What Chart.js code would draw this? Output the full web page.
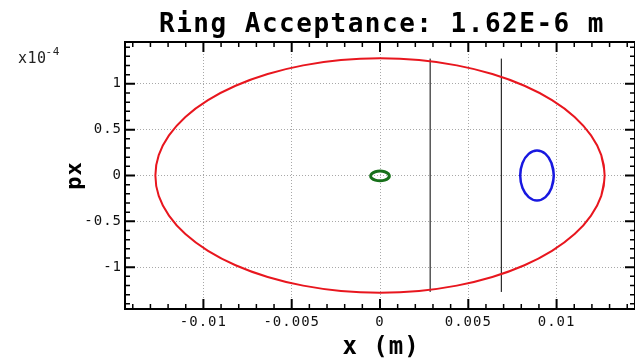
<!DOCTYPE html>
<html>
<head>
<meta charset="utf-8">
<script src="https://cdn.jsdelivr.net/npm/chart.js@4.4.1/dist/chart.umd.min.js"></script>
<style>
  html, body { margin: 0; padding: 0; background: #fff; }
  canvas { display: block; }
</style>
</head>
<body>
<canvas id="acceptance" width="635" height="359"></canvas>
<script>
// px values are in units of 1e-4 (see the x10^-4 marker)

// acceptance ellipse, traced once round (first/last points overlap for a smooth join)
const ringX = [0.01253,
  0.01272, 0.01253, 0.01195, 0.01102, 0.00974, 0.00818, 0.00636, 0.00435, 0.00221, 0,
  -0.00221, -0.00435, -0.00636, -0.00818, -0.00974, -0.01102, -0.01195, -0.01253, -0.01272,
  -0.01253, -0.01195, -0.01102, -0.00974, -0.00818, -0.00636, -0.00435, -0.00221, 0,
  0.00221, 0.00435, 0.00636, 0.00818, 0.00974, 0.01102, 0.01195, 0.01253, 0.01272,
  0.01253];
const ringPx = [-0.222,
  0, 0.222, 0.437, 0.639, 0.822, 0.979, 1.107, 1.201, 1.259, 1.278,
  1.259, 1.201, 1.107, 0.979, 0.822, 0.639, 0.437, 0.222, 0,
  -0.222, -0.437, -0.639, -0.822, -0.979, -1.107, -1.201, -1.259, -1.278,
  -1.259, -1.201, -1.107, -0.979, -0.822, -0.639, -0.437, -0.222, 0,
  0.222];

// off-axis beam (blue)
const beamX = [0.00971, 0.00984, 0.00971, 0.00937, 0.00889, 0.00842, 0.00807, 0.00794,
  0.00807, 0.00842, 0.00889, 0.00937, 0.00971, 0.00984, 0.00971];
const beamPx = [-0.137, 0, 0.137, 0.236, 0.273, 0.236, 0.137, 0,
  -0.137, -0.236, -0.273, -0.236, -0.137, 0, 0.137];

// on-axis beam (green)
const coreX = [0.00046, 0.00053, 0.00046, 0.000265, 0, -0.000265, -0.00046, -0.00053,
  -0.00046, -0.000265, 0, 0.000265, 0.00046, 0.00053, 0.00046];
const corePx = [-0.0315, -0.005, 0.0215, 0.041, 0.048, 0.041, 0.0215, -0.005,
  -0.0315, -0.051, -0.058, -0.051, -0.0315, -0.005, 0.0215];

// septum / aperture positions
const apertureX = [0.00284, 0.00687];
const apertureSpan = [-1.27, 1.275];

// labelled ticks
const xMajor = [-0.01, -0.005, 0, 0.005, 0.01];
const xTickLabels = ['-0.01', '-0.005', '0', '0.005', '0.01'];
const yMajor = [-1, -0.5, 0, 0.5, 1];
const yTickLabels = ['-1', '-0.5', '0', '0.5', '1'];

const MONO = '"DejaVu Sans Mono", monospace';

const toPoints = (xs, ys) => xs.map((x, i) => ({ x: x, y: ys[i] }));
const majorIndex = (list, v) => list.findIndex(m => Math.abs(m - v) < 1e-9);

// frame, inward ticks and the text around the plot
const framePlugin = {
  id: 'frame',
  beforeDraw(chart) {
    chart.ctx.letterSpacing = '1px';
  },
  afterDatasetsDraw(chart) {
    const { ctx, chartArea: a, scales: { x, y } } = chart;
    ctx.save();
    ctx.strokeStyle = '#000';
    ctx.lineCap = 'butt';

    x.ticks.forEach(t => {
      const px = x.getPixelForValue(t.value);
      const major = majorIndex(xMajor, t.value) >= 0;
      const len = major ? 10 : 5;
      ctx.lineWidth = major ? 2 : 1.5;
      ctx.beginPath();
      ctx.moveTo(px, a.bottom); ctx.lineTo(px, a.bottom - len);
      ctx.moveTo(px, a.top); ctx.lineTo(px, a.top + len);
      ctx.stroke();
    });
    y.ticks.forEach(t => {
      const py = y.getPixelForValue(t.value);
      const major = majorIndex(yMajor, t.value) >= 0;
      const len = major ? 10 : 5;
      ctx.lineWidth = major ? 2 : 1.5;
      ctx.beginPath();
      ctx.moveTo(a.left, py); ctx.lineTo(a.left + len, py);
      ctx.moveTo(a.right, py); ctx.lineTo(a.right - len, py);
      ctx.stroke();
    });

    ctx.lineWidth = 2;
    ctx.strokeRect(a.left, a.top, a.right - a.left, a.bottom - a.top);
    ctx.restore();
  },
  afterDraw(chart) {
    const { ctx, chartArea: a } = chart;
    const cx = (a.left + a.right) / 2;
    ctx.save();
    ctx.fillStyle = '#000';
    ctx.textBaseline = 'alphabetic';

    ctx.letterSpacing = '1.5px';
    ctx.textAlign = 'center';
    ctx.font = 'bold 26px ' + MONO;
    ctx.fillText('Ring Acceptance: 1.62E-6 m', cx + 2, 32);

    ctx.letterSpacing = '1px';
    ctx.font = 'bold 24px ' + MONO;
    ctx.fillText('x (m)', cx + 1, 354);

    ctx.save();
    ctx.translate(81, (a.top + a.bottom) / 2);
    ctx.rotate(-Math.PI / 2);
    ctx.font = 'bold 22px ' + MONO;
    ctx.fillText('px', 0, 0);
    ctx.restore();

    ctx.textAlign = 'left';
    ctx.fillStyle = '#222';
    ctx.letterSpacing = '0.5px';
    ctx.font = '15px ' + MONO;
    ctx.fillText('x10', 18, 63);
    const w = ctx.measureText('x10').width;
    ctx.font = '11px ' + MONO;
    ctx.fillText('-4', 17 + w, 55);
    ctx.restore();
  }
};

const lineSet = (data, color, width, tension) => ({
  data: data,
  showLine: true,
  fill: false,
  borderColor: color,
  borderWidth: width,
  pointRadius: 0,
  tension: tension
});

new Chart(document.getElementById('acceptance'), {
  type: 'scatter',
  data: {
    datasets: [
      lineSet(toPoints(ringX, ringPx), '#e8161e', 2, 0.4),
      lineSet(toPoints(coreX, corePx), '#17701a', 3, 0.4),
      lineSet(toPoints(beamX, beamPx), '#1818e0', 2.5, 0.4),
      lineSet(toPoints([apertureX[0], apertureX[0]], apertureSpan), '#000', 1, 0),
      lineSet(toPoints([apertureX[1], apertureX[1]], apertureSpan), '#000', 1, 0)
    ]
  },
  options: {
    responsive: false,
    animation: false,
    layout: { padding: { top: 42, right: -1, bottom: 0, left: 0 } },
    plugins: {
      legend: { display: false },
      tooltip: { enabled: false },
      title: { display: false }
    },
    scales: {
      x: {
        type: 'linear',
        position: 'bottom',
        min: -0.01444,
        max: 0.01444,
        afterFit: s => { s.height = 50; },
        border: { display: false, dash: [1, 2] },
        grid: {
          drawTicks: false,
          lineWidth: 1,
          color: c => majorIndex(xMajor, c.tick.value) >= 0 ? '#a8a8a8' : 'rgba(0,0,0,0)'
        },
        ticks: {
          stepSize: 0.001,
          maxTicksLimit: 100,
          includeBounds: false,
          autoSkip: false,
          maxRotation: 0,
          minRotation: 0,
          padding: 5,
          color: '#111',
          font: { family: MONO, size: 14 },
          callback: v => {
            const i = majorIndex(xMajor, v);
            return i >= 0 ? xTickLabels[i] : '';
          }
        }
      },
      y: {
        type: 'linear',
        position: 'left',
        min: -1.456,
        max: 1.456,
        afterFit: s => { s.width = 125; },
        border: { display: false, dash: [1, 2] },
        grid: {
          drawTicks: false,
          lineWidth: 1,
          color: c => majorIndex(yMajor, c.tick.value) >= 0 ? '#a8a8a8' : 'rgba(0,0,0,0)'
        },
        ticks: {
          stepSize: 0.1,
          maxTicksLimit: 100,
          includeBounds: false,
          autoSkip: false,
          padding: 3,
          color: '#111',
          font: { family: MONO, size: 14 },
          callback: v => {
            const i = majorIndex(yMajor, v);
            return i >= 0 ? yTickLabels[i] : '';
          }
        }
      }
    }
  },
  plugins: [framePlugin]
});
</script>
</body>
</html>
